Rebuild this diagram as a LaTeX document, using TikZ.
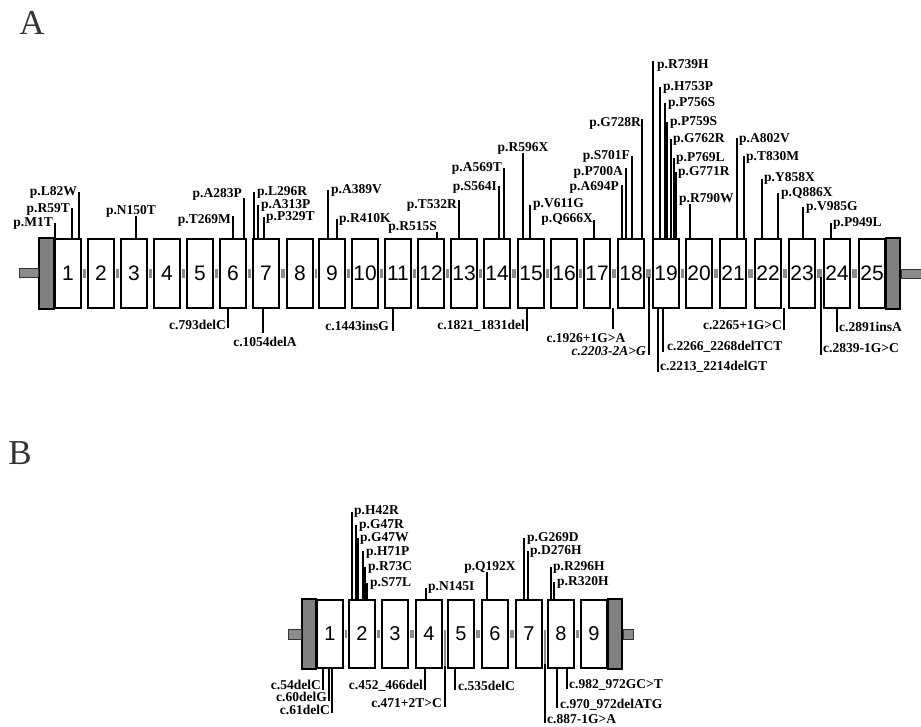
\documentclass[tikz,border=0pt]{standalone}
\usepackage{fontspec}
\setmainfont{Liberation Serif}
\newfontfamily\exonfont{Liberation Sans}
\usetikzlibrary{calc}

\begin{document}
\begin{tikzpicture}[x=1pt,y=-1pt,
  exon/.style={draw,line width=1.8pt,fill=white,minimum width=26pt,minimum height=69pt,inner sep=0pt,font=\exonfont\fontsize{21}{21}\selectfont},
  exonB/.style={exon,minimum height=68pt,font=\exonfont\fontsize{20}{20}\selectfont},
  endcap/.style={draw,line width=1.8pt,fill=black!50},
  stub/.style={draw=black!80,line width=0.6pt,fill=black!45},
  intron/.style={fill=black!45},
  mut/.style={line width=1.1pt},
  lab/.style={font=\bfseries\fontsize{13.5}{13.5}\selectfont,inner sep=0pt},
  panel/.style={font=\fontsize{35}{35}\selectfont,text=black!80}]
\useasboundingbox (0,0) rectangle (921,726);

% panel labels
\node[panel] (pA) at (32,23) {A};
\node[panel] (pB) at (20,453) {B};

% ---- A: 25 exons
\foreach \i/\xl in {1/54,2/87,3/120,4/153,5/186,6/219,7/252,8/286,9/318,10/351,11/384,12/417,13/450,14/483,15/517,16/550,17/583,18/617,19/652,20/685,21/719,22/754,23/788,24/823,25/858}
  \node[exon] (a\i) at (\xl+14,273.5) {\i};
\foreach \i [evaluate=\i as \j using int(\i+1)] in {1,...,24}
  \fill[intron] ([xshift=0.9pt,yshift=4.5pt]a\i.east) rectangle ([xshift=-0.9pt,yshift=-4.5pt]a\j.west);
\filldraw[endcap] (a1.north west) rectangle ([xshift=-15pt]a1.south west);
\filldraw[stub] ([xshift=-15.9pt,yshift=5pt]a1.west) rectangle ([xshift=-35pt,yshift=-4pt]a1.west);
\filldraw[endcap] (a25.north east) rectangle ([xshift=14pt]a25.south east);
\filldraw[stub] ([xshift=14.9pt,yshift=4pt]a25.east) rectangle ([xshift=36pt,yshift=-5pt]a25.east);

% A: protein changes above
\foreach \lx/\ly/\an/\tx/\ty/\txt in {55/223/east/53/223/p.M1T, 72/208/east/70/209/p.R59T, 79/192/east/77/192/p.L82W,
  136/216/center/131/211/p.N150T, 233/216/east/231/220/p.T269M, 244/198/east/242/194/p.A283P,
  254/192/west/257/192/p.L296R, 258/205/west/261/205/p.A313P, 264/217/west/266/217/p.P329T,
  328/190/west/331/190/p.A389V, 337/219/west/339/219/p.R410K, 437/232/east/437/227/p.R515S,
  459/200/east/457/205/p.T532R, 499/186/east/497/187/p.S564I, 504/168/east/502/168/p.A569T,
  523/153/center/523/148/p.R596X, 530/205/west/533/204/p.V611G, 594/220/east/593/219/p.Q666X,
  622/185/east/619/187/p.A694P, 626/168/east/623/172/p.P700A, 632/156/east/630/156/p.S701F,
  642/119/east/641/123/p.G728R, 653/61/west/657/65/p.R739H, 660/87/west/663/87/p.H753P,
  665/103/west/668/103/p.P756S, 667/122/west/670/122/p.P759S, 671/139/west/673/139/p.G762R,
  674/158/west/676/158/p.P769L, 676/172/west/678/172/p.G771R, 690/204/west/679/199/p.R790W,
  737/138/west/739/139/p.A802V, 744/156/west/746/157/p.T830M, 762/179/west/764/178/p.Y858X,
  778/193/west/781/193/p.Q886X, 803/207/west/806/207/p.V985G, 831/223/west/833/223/p.P949L}{
  \coordinate (base) at (\lx,239);
  \coordinate (tip) at (\lx,\ly);
  \node[lab,anchor=\an] (lbl) at (\tx,\ty) {\txt};
  \draw[mut] (base) -- (tip);
}

% A: cDNA changes below
\foreach \lx/\lya/\ly/\an/\tx/\ty/\txt in {228/308/328/east/226/325/c.793delC, 263/308/333/center/265/342/c.1054delA,
  393/308/331/east/389/326/c.1443insG, 527/308/331/east/525/326/c.1821\_1831del,
  613/308/329/center/586/338/c.1926+1G>A, 649/277/355/east/646/351/\textit{c.2203-2A>G},
  658/308/372/west/660/367/c.2213\_2214delGT, 663/308/352/west/667/347/c.2266\_2268delTCT,
  784/308/330/east/782/325/c.2265+1G>C, 821/277/355/west/823/348/c.2839-1G>C,
  837/308/332/west/839/327/c.2891insA}{
  \coordinate (base) at (\lx,\lya);
  \coordinate (tip) at (\lx,\ly);
  \node[lab,anchor=\an] (lbl) at (\tx,\ty) {\txt};
  \draw[mut] (base) -- (tip);
}

% ---- B: 9 exons
\foreach \i/\xl in {1/316,2/348,3/381,4/415,5/447,6/481,7/515,8/547,9/580}
  \node[exonB] (b\i) at (\xl+14,634) {\i};
\foreach \i/\j in {1/2,2/3,3/4,5/6,6/7,8/9}
  \fill[intron] ([xshift=0.9pt,yshift=4pt]b\i.east) rectangle ([xshift=-0.9pt,yshift=-4pt]b\j.west);
\foreach \i/\j in {4/5,7/8}
  \fill[intron] ([xshift=0.9pt,yshift=4pt]b\i.east) rectangle ([xshift=-0.9pt,yshift=2pt]b\j.south west);
\filldraw[endcap] (b1.north west) rectangle ([xshift=-14pt]b1.south west);
\filldraw[stub] ([xshift=-14.9pt,yshift=5pt]b1.west) rectangle ([xshift=-28pt,yshift=-5pt]b1.west);
\filldraw[endcap] (b9.north east) rectangle ([xshift=14pt]b9.south east);
\filldraw[stub] ([xshift=14.9pt,yshift=5pt]b9.east) rectangle ([xshift=25pt,yshift=-5pt]b9.east);

% B: protein changes above
\foreach \lx/\ly/\an/\tx/\ty/\txt in {352/512/west/354/511/p.H42R, 356/525/west/359/525/p.G47R, 358/538/west/360/538/p.G47W,
  363/551/west/366/552/p.H71P, 365/567/west/368/567/p.R73C, 367/583/west/370/583/p.S77L,
  426/588/west/428/587/p.N145I, 487/572/center/490/567/p.Q192X, 524/538/west/527/538/p.G269D,
  528/551/west/530/551/p.D276H, 551/567/west/553/567/p.R296H, 554/582/west/557/582/p.R320H}{
  \coordinate (base) at (\lx,600);
  \coordinate (tip) at (\lx,\ly);
  \node[lab,anchor=\an] (lbl) at (\tx,\ty) {\txt};
  \draw[mut] (base) -- (tip);
}

% B: cDNA changes below
\foreach \lx/\lya/\ly/\an/\tx/\ty/\txt in {323/668/690/east/321/685/c.54delC, 329/668/701/east/327/697/c.60delG,
  332/668/713/east/330/710/c.61delC, 425/668/690/east/423/686/c.452\_466del,
  445/666/707/east/442/703/c.471+2T>C, 455/668/690/west/458/686/c.535delC,
  545/664/723/west/547/719/c.887-1G>A, 557/668/708/west/560/705/c.970\_972delATG,
  567/668/689/west/569/685/c.982\_972GC>T}{
  \coordinate (base) at (\lx,\lya);
  \coordinate (tip) at (\lx,\ly);
  \node[lab,anchor=\an] (lbl) at (\tx,\ty) {\txt};
  \draw[mut] (base) -- (tip);
}
\end{tikzpicture}
\end{document}
